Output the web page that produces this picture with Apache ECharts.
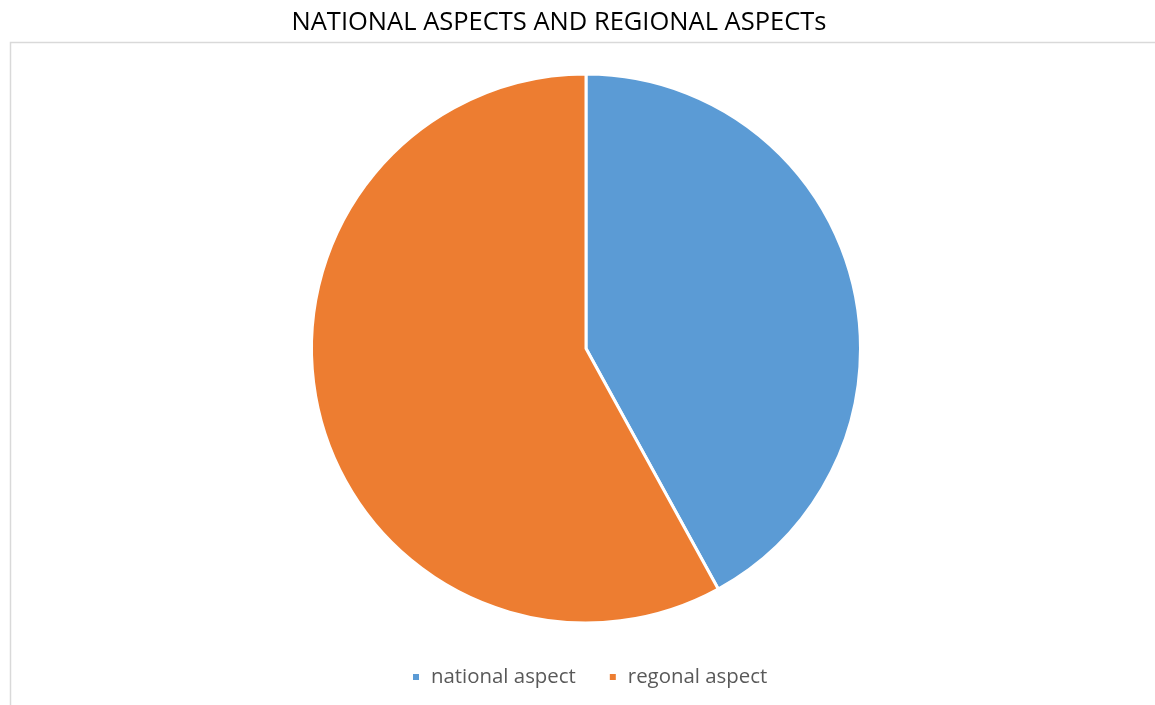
<!DOCTYPE html>
<html>
<head>
<meta charset="utf-8">
<style>
  html, body { margin: 0; padding: 0; background: #ffffff; }
  #chart { width: 1155px; height: 705px; }
</style>
<script src="https://cdn.jsdelivr.net/npm/echarts@6/dist/echarts.min.js"></script>
</head>
<body>
<div id="chart"></div>
<script>
// Share of aspects
const categories = ['national aspect', 'regonal aspect'];
const shares = [42, 58];
const sliceColors = ['#5B9BD5', '#ED7D31'];

const chart = echarts.init(document.getElementById('chart'), null, { renderer: 'canvas' });

chart.setOption({
  backgroundColor: '#ffffff',
  animation: false,
  title: {
    text: 'NATIONAL ASPECTS AND REGIONAL ASPECTs',
    left: 554,
    textAlign: 'center',
    top: 5,
    textStyle: {
      fontFamily: 'Open Sans',
      fontSize: 25.5,
      fontWeight: 'normal',
      color: '#000000'
    }
  },
  graphic: [{
    type: 'rect',
    shape: { x: 10.5, y: 42.5, width: 1160, height: 700 },
    style: { fill: 'none', stroke: '#d9d9d9', lineWidth: 1.5 },
    silent: true,
    z: -1
  }],
  legend: {
    data: categories,
    left: 406,
    top: 662,
    icon: 'rect',
    itemWidth: 8,
    itemHeight: 8,
    itemGap: 32,
    textStyle: {
      fontFamily: 'Open Sans',
      fontSize: 20.4,
      color: '#595959',
      padding: [0, 0, 0, 6]
    }
  },
  series: [{
    type: 'pie',
    center: [586, 348.5],
    radius: [0, 274.5],
    startAngle: 90,
    clockwise: true,
    label: { show: false },
    labelLine: { show: false },
    itemStyle: { borderColor: '#ffffff', borderWidth: 3 },
    data: categories.map((name, i) => ({
      name: name,
      value: shares[i],
      itemStyle: { color: sliceColors[i] }
    }))
  }]
});
</script>
</body>
</html>
